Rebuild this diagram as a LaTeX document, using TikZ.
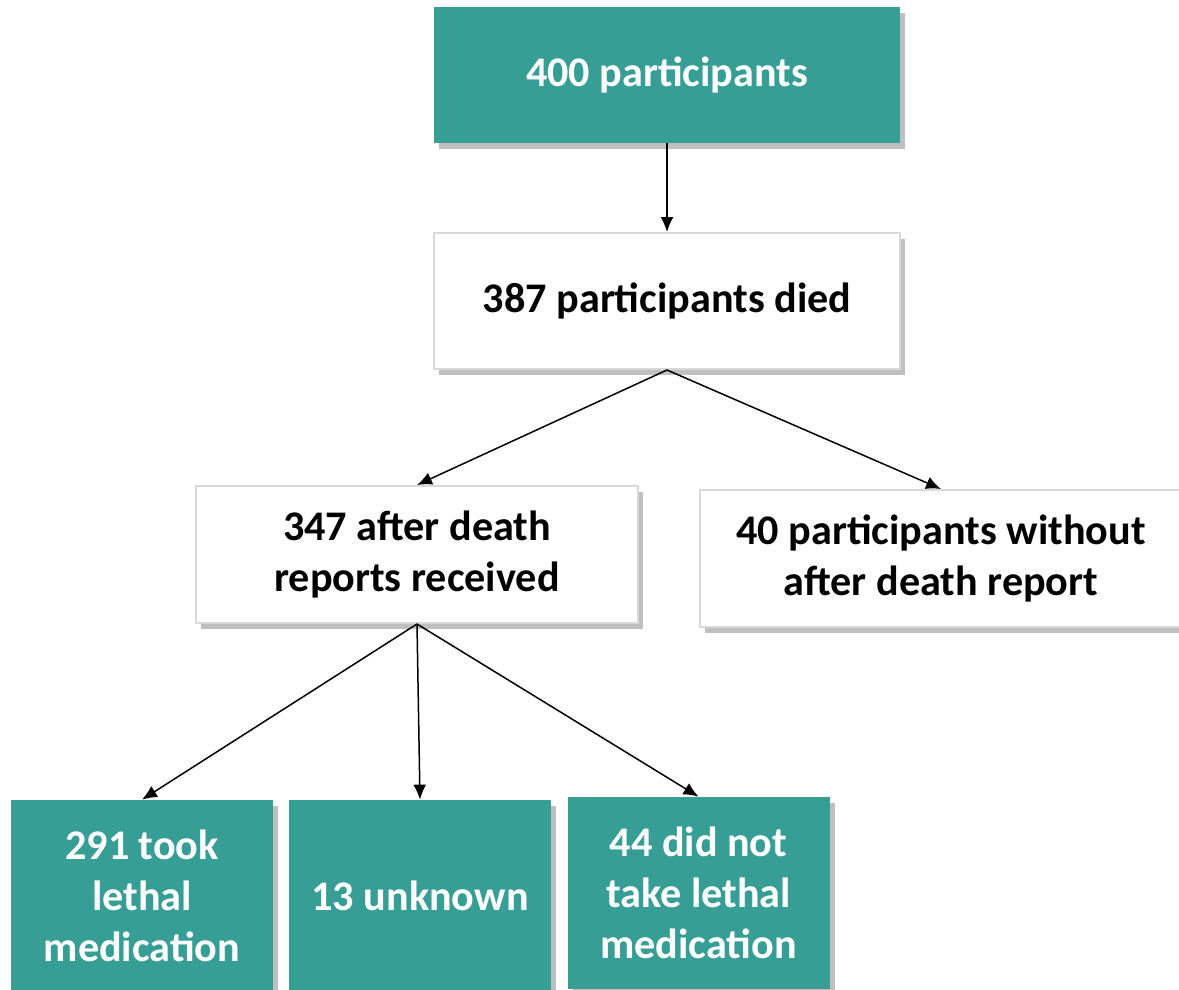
\documentclass[tikz,border=0pt]{standalone}
\usepackage{fontspec}
\setmainfont{Carlito}
\usepackage{xcolor}
\usetikzlibrary{positioning,arrows.meta,shadows}
\definecolor{tealbox}{RGB}{55,158,150}
\definecolor{boxline}{RGB}{217,217,217}

\begin{document}
\begin{tikzpicture}[node distance=5cm,on grid,
    font=\fontsize{24}{29}\selectfont\bfseries,
    box/.style={rectangle, align=center, inner sep=0pt,
        drop shadow={shadow xshift=0.1cm, shadow yshift=-0.12cm, fill=black, opacity=0.25}},
    filled/.style={box, fill=tealbox, text=white},
    plain/.style={box, fill=white, draw=boxline, line width=0.04cm},
    >={Latex[length=0.3cm,width=0.26cm]}]
    \clip (0,0) rectangle (23.58,-19.8);
    \node[filled, minimum width=9.32cm, minimum height=2.72cm] (all) at (13.34,-1.5) {400 participants};
    \node[plain, minimum width=9.32cm, minimum height=2.72cm] (died) [below=4.52cm of all] {387 participants died};
    \node[plain, minimum width=8.84cm, minimum height=2.74cm] (reports) [below left=5.07cm and 5cm of died] {347 after death\\reports received};
    \node[plain, minimum width=9.64cm, minimum height=2.74cm] (noreport) [below right=5.15cm and 5.48cm of died] {40 participants without\\after death report};
    \node[filled, minimum width=5.24cm, minimum height=3.84cm] (unknown) [below right=6.83cm and 0.06cm of reports] {13 unknown};
    \node[filled, minimum width=5.24cm, minimum height=3.84cm] (took) [left=5.56cm of unknown] {291 took\\lethal\\medication};
    \node[filled, minimum width=5.24cm, minimum height=3.84cm] (nottook) [above right=0.06cm and 5.57cm of unknown] {44 did not\\take lethal\\medication};

    \path[->, line width=0.03cm]
    (all) edge (died)
    (died.south) edge (reports.north)
    (died.south) edge (noreport.north)
    (reports.south) edge (took.north)
    (reports.south) edge (unknown.north)
    (reports.south) edge (nottook.north);
\end{tikzpicture}
\end{document}
